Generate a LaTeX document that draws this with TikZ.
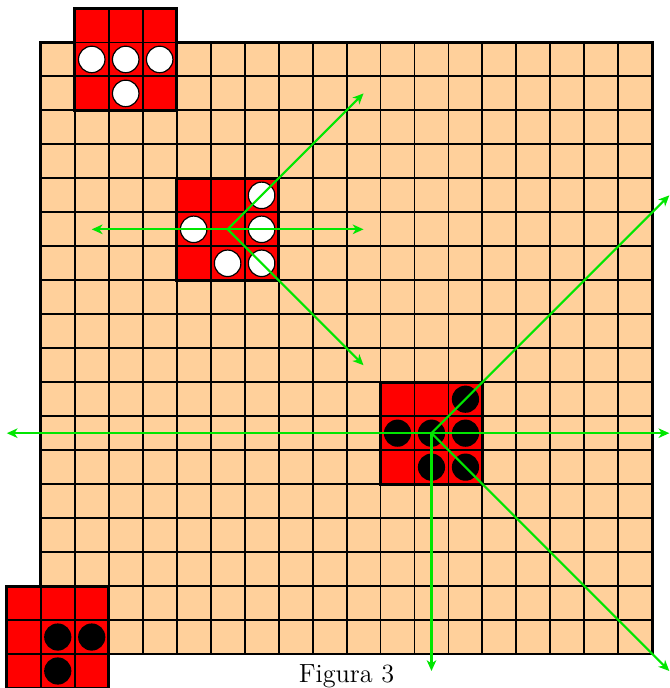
\documentclass[tikz,border=0pt]{standalone}
\usepackage{tikz}
\usepackage{xcolor}
\usetikzlibrary{arrows.meta}
\definecolor{board}{HTML}{FFD09B}
\definecolor{piece}{HTML}{FF0000}
\definecolor{move}{HTML}{00E600}

\begin{document}
\begin{tikzpicture}[
  x=0.5cm, y=0.5cm,
  gridline/.style={draw=black, line width=0.8pt, step=0.5cm},
  frame/.style={draw=black, line width=1.2pt},
  whitestone/.style={fill=white, draw=black, line width=0.5pt},
  blackstone/.style={fill=black},
  movearrow/.style={-{Stealth[length=4.5pt,width=4pt,inset=1.3pt]}, draw=move, line width=0.9pt}
]

% Picture frame
\useasboundingbox (-1.2,-1) rectangle (18.5,19.25);

% Board 18x18
\fill[board] (0,0) rectangle (18,18);
\draw[gridline] (0,0) grid (18,18);
\draw[frame] (0,0) rectangle (18,18);

% Red 3x3 blocks (lower left corner)
\foreach \bx/\by in {1/16, 4/11, 10/5, -1/-1} {
  \begin{scope}[shift={(\bx,\by)}]
    \fill[piece] (0,0) rectangle (3,3);
    \draw[gridline] (0,0) grid (3,3);
    \draw[frame] (0,0) rectangle (3,3);
  \end{scope}
}

% White stones
\foreach \sx/\sy in {1.5/17.5, 2.5/17.5, 3.5/17.5, 2.5/16.5,
                     6.5/13.5, 4.5/12.5, 6.5/12.5, 5.5/11.5, 6.5/11.5} {
  \filldraw[whitestone] (\sx,\sy) circle (0.195cm);
}

% Black stones
\foreach \sx/\sy in {12.5/7.5, 10.5/6.5, 11.5/6.5, 12.5/6.5, 11.5/5.5, 12.5/5.5,
                     0.5/0.5, 1.5/0.5, 0.5/-0.5} {
  \fill[blackstone] (\sx,\sy) circle (0.2cm);
}

% Moves of the white block
\coordinate (wc) at (5.5,12.5);
\coordinate (wne) at (9.5,16.5);
\coordinate (ww)  at (1.5,12.5);
\coordinate (we)  at (9.5,12.5);
\coordinate (wse) at (9.5,8.5);
\foreach \e in {wne, ww, we, wse} {
  \draw[movearrow] (wc) -- (\e);
}

% Moves of the black block
\coordinate (bc) at (11.5,6.5);
\coordinate (bw)  at (-1,6.5);
\coordinate (be)  at (18.5,6.5);
\coordinate (bne) at (18.5,13.5);
\coordinate (bs)  at (11.5,-0.5);
\coordinate (bse) at (18.5,-0.5);
\foreach \e in {bw, be, bne, bs, bse} {
  \draw[movearrow] (bc) -- (\e);
}

% Caption
\node[font=\fontsize{11pt}{13pt}\selectfont, anchor=base] (caption) at (9,-0.85) {Figura 3};

\end{tikzpicture}
\end{document}
